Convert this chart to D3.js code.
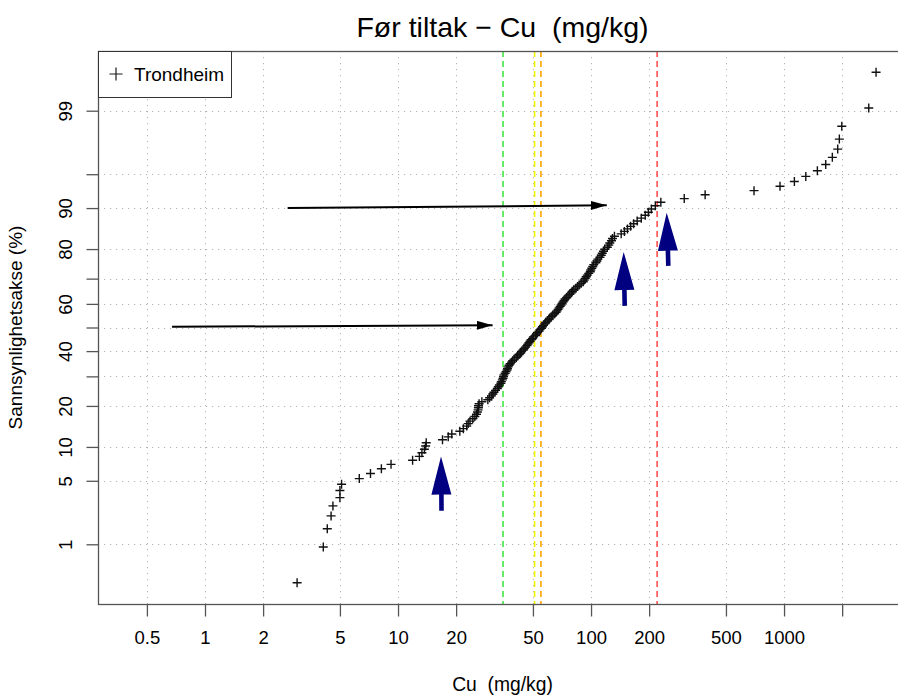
<!DOCTYPE html>
<html>
<head>
<meta charset="utf-8">
<script src="https://cdn.jsdelivr.net/npm/d3@7"></script>
<style>
  body { margin: 0; background: #fff; }
  svg { display: block; font-family: "Liberation Sans", Arial, sans-serif; }
  text { white-space: pre; }
</style>
</head>
<body>
<svg width="898" height="697"></svg>
<script>
// Cu (mg/kg), sorted - one value per sample
var cuValues = [3.0, 4.1, 4.3, 4.5, 4.6, 5.0, 5.0, 5.1, 6.3, 7.2,
    8.2, 9.2, 11.9, 12.9, 13.3, 13.7, 13.9, 14.0, 17.0, 18.2,
    19.0, 20.9, 21.8, 22.7, 23.1, 23.6, 24.4, 25.0, 25.5, 25.8,
    26.0, 26.1, 26.1, 26.3, 27.2, 29.2, 29.8, 30.5, 31.0, 31.4,
    32.0, 32.7, 33.1, 33.5, 34.1, 34.3, 34.7, 35.0, 35.2, 35.4,
    35.9, 36.3, 36.7, 36.9, 37.2, 37.6, 38.1, 38.8, 39.3, 40.0,
    41.0, 41.7, 42.4, 43.2, 43.6, 44.5, 45.0, 45.8, 46.6, 47.1,
    47.7, 48.3, 48.9, 49.7, 50.3, 51.6, 52.2, 52.8, 53.8, 54.4,
    55.4, 56.0, 56.7, 57.6, 58.3, 59.4, 60.5, 61.1, 62.2, 63.3,
    64.8, 65.9, 66.7, 67.5, 68.3, 69.2, 70.0, 70.8, 71.6, 72.5,
    73.4, 74.8, 76.1, 77.6, 79.0, 80.0, 81.5, 83.5, 85.2, 86.8,
    88.9, 91.1, 92.2, 93.3, 94.4, 95.6, 97.3, 99.1, 99.7, 100.9,
    102.1, 103.4, 105.9, 107.2, 108.5, 111.2, 113.0, 114.4, 116.0, 117.7,
    121.4, 123.6, 125.1, 127.6, 129.1, 132.2, 143.3, 148.9, 154.4, 160.3,
    166.2, 173.4, 182.1, 190.9, 198.2, 205.4, 215.3, 230, 304, 390,
    699, 953, 1131, 1296, 1488, 1644, 1779, 1897, 1934, 1991,
    2747, 2997];

var xTicks = [0.5, 1, 2, 5, 10, 20, 50, 100, 200, 500, 1000, 2000];
var xTickLabels = ["0.5", "1", "2", "5", "10", "20", "50", "100", "200", "500", "1000", ""];
var yTicks = [1, 5, 10, 20, 30, 40, 50, 60, 70, 80, 90, 95, 99];
var yTickLabels = ["1", "5", "10", "20", "", "40", "", "60", "", "80", "90", "", "99"];

// vertical reference lines (Cu value)
var refValues = [35, 51, 55, 220];
var refColors = ["#44e844", "#f2f200", "#ffa500", "#ff5050"];

// black arrows: from [Cu, %] to [Cu, %]
var blackArrows = [
    {from: [2.68, 90.0], to: [120.6, 90.5]},
    {from: [0.675, 50.3], to: [30.9, 51.0]}
];
// navy arrows pointing up
var blueArrows = [
    {from: [16.8, 2.46], to: [16.7, 8.3]},
    {from: [149.5, 59.2], to: [147.7, 79.1]},
    {from: [251.5, 74.6], to: [246.7, 89.1]}
];

function qnorm(p) {
    var a = [-3.969683028665376e+01, 2.209460984245205e+02, -2.759285104469687e+02, 1.383577518672690e+02, -3.066479806614716e+01, 2.506628277459239e+00];
    var b = [-5.447609879822406e+01, 1.615858368580409e+02, -1.556989798598866e+02, 6.680131188771972e+01, -1.328068155288572e+01];
    var c = [-7.784894002430293e-03, -3.223964580411365e-01, -2.400758277161838e+00, -2.549671010229528e+00, 4.374664141464968e+00, 2.938163982698783e+00];
    var d = [7.784695709041462e-03, 3.224671290700398e-01, 2.445134137142996e+00, 3.754408661907416e+00];
    var q, r;
    if (p < 0.02425) {
        q = Math.sqrt(-2 * Math.log(p));
        return (((((c[0]*q+c[1])*q+c[2])*q+c[3])*q+c[4])*q+c[5]) / ((((d[0]*q+d[1])*q+d[2])*q+d[3])*q+1);
    }
    if (p > 1 - 0.02425) {
        q = Math.sqrt(-2 * Math.log(1 - p));
        return -(((((c[0]*q+c[1])*q+c[2])*q+c[3])*q+c[4])*q+c[5]) / ((((d[0]*q+d[1])*q+d[2])*q+d[3])*q+1);
    }
    q = p - 0.5;
    r = q * q;
    return (((((a[0]*r+a[1])*r+a[2])*r+a[3])*r+a[4])*r+a[5])*q / (((((b[0]*r+b[1])*r+b[2])*r+b[3])*r+b[4])*r+1);
}

var svg = d3.select("svg"),
    pLeft = 98, pRight = 907, pTop = 51, pBottom = 604;

var x = d3.scaleLog().domain([0.279, 4335]).range([pLeft, pRight]);
var z = d3.scaleLinear().domain([-2.967, 2.967]).range([pBottom, pTop]);
var yPct = function(pct) { return z(qnorm(pct / 100)); };

var n = cuValues.length;
var points = cuValues.map(function(v, i) {
    return {cu: v, pct: 100 * (i + 0.5) / n};
});

// grid
var grid = svg.append("g")
    .attr("stroke", "#b4b4b4")
    .attr("stroke-dasharray", "1.2,4.8");
grid.selectAll(".gx").data(xTicks).enter().append("line")
    .attr("x1", function(d) { return Math.round(x(d)) + 0.5; })
    .attr("x2", function(d) { return Math.round(x(d)) + 0.5; })
    .attr("y1", pTop).attr("y2", pBottom);
grid.selectAll(".gy").data(yTicks).enter().append("line")
    .attr("y1", function(d) { return Math.round(yPct(d)) + 0.5; })
    .attr("y2", function(d) { return Math.round(yPct(d)) + 0.5; })
    .attr("x1", pLeft).attr("x2", pRight);

// reference lines
svg.append("g").selectAll("line").data(refValues).enter().append("line")
    .attr("x1", function(d) { return x(d); })
    .attr("x2", function(d) { return x(d); })
    .attr("y1", pTop).attr("y2", pBottom)
    .attr("stroke", function(d, i) { return refColors[i]; })
    .attr("stroke-width", 1.6)
    .attr("stroke-dasharray", "6,4");

// points
svg.append("g").selectAll("path").data(points).enter().append("path")
    .attr("transform", function(d) { return "translate(" + x(d.cu) + "," + yPct(d.pct) + ")"; })
    .attr("d", "M-4.5,0H4.5M0,-4.5V4.5")
    .attr("stroke", "#111")
    .attr("stroke-width", 1.4)
    .attr("fill", "none");

// black arrows
svg.append("defs").append("marker")
    .attr("id", "head")
    .attr("markerUnits", "userSpaceOnUse")
    .attr("markerWidth", 18).attr("markerHeight", 10)
    .attr("refX", 16).attr("refY", 4.5)
    .attr("orient", "auto")
    .append("path")
    .attr("d", "M0,0L16,4.5L0,9Z")
    .attr("fill", "#000");

svg.append("g").selectAll("line").data(blackArrows).enter().append("line")
    .attr("x1", function(d) { return x(d.from[0]); })
    .attr("y1", function(d) { return yPct(d.from[1]); })
    .attr("x2", function(d) { return x(d.to[0]); })
    .attr("y2", function(d) { return yPct(d.to[1]); })
    .attr("stroke", "#000")
    .attr("stroke-width", 2)
    .attr("marker-end", "url(#head)");

// navy arrows
function bigArrow(d) {
    var x0 = x(d.from[0]), y0 = yPct(d.from[1]), x1 = x(d.to[0]), y1 = yPct(d.to[1]);
    var len = Math.sqrt((x1 - x0) * (x1 - x0) + (y1 - y0) * (y1 - y0));
    var ux = (x1 - x0) / len, uy = (y1 - y0) / len;
    var nx = -uy, ny = ux;
    var hl = 38, hw = 10, sw = 2.3;
    var bx = x1 - ux * hl, by = y1 - uy * hl;
    var pts = [
        [x1, y1],
        [bx + nx * hw, by + ny * hw],
        [bx + nx * sw, by + ny * sw],
        [x0 + nx * sw, y0 + ny * sw],
        [x0 - nx * sw, y0 - ny * sw],
        [bx - nx * sw, by - ny * sw],
        [bx - nx * hw, by - ny * hw]
    ];
    return "M" + pts.map(function(p) { return p[0].toFixed(1) + "," + p[1].toFixed(1); }).join("L") + "Z";
}
svg.append("g").selectAll("path").data(blueArrows).enter().append("path")
    .attr("d", bigArrow)
    .attr("fill", "#000080");

// frame
svg.append("rect")
    .attr("x", pLeft + 0.5).attr("y", pTop + 0.5)
    .attr("width", pRight - pLeft).attr("height", pBottom - pTop)
    .attr("fill", "none")
    .attr("stroke", "#555")
    .attr("stroke-width", 1.3);

// axes
var xAxis = svg.append("g")
    .attr("transform", "translate(0," + (pBottom + 0.5) + ")")
    .call(d3.axisBottom(x).tickValues(xTicks)
        .tickFormat(function(d, i) { return xTickLabels[i]; })
        .tickSize(12).tickPadding(14));
xAxis.select(".domain").remove();
xAxis.selectAll("line").attr("stroke", "#555").attr("stroke-width", 1.3);
xAxis.selectAll("text").attr("font-size", 18.5).attr("fill", "#000")
    .attr("font-family", "Liberation Sans, Arial, sans-serif");

var yAxis = svg.append("g")
    .attr("transform", "translate(" + (pLeft + 0.5) + ",0)")
    .call(d3.axisLeft(z).tickValues(yTicks.map(function(d) { return qnorm(d / 100); }))
        .tickFormat(function(d, i) { return yTickLabels[i]; })
        .tickSize(12).tickPadding(0));
yAxis.select(".domain").remove();
yAxis.selectAll("line").attr("stroke", "#555").attr("stroke-width", 1.3);
yAxis.selectAll("text")
    .attr("font-size", 18.5).attr("fill", "#000")
    .attr("font-family", "Liberation Sans, Arial, sans-serif")
    .attr("x", null).attr("dy", null)
    .attr("text-anchor", "middle")
    .attr("transform", "translate(-27,0) rotate(-90)");

// titles
svg.append("text")
    .attr("x", (pLeft + pRight) / 2).attr("y", 37)
    .attr("text-anchor", "middle")
    .attr("font-size", 28.5)
    .text("Før tiltak \u2212 Cu  (mg/kg)");

svg.append("text")
    .attr("x", (pLeft + pRight) / 2).attr("y", 691)
    .attr("text-anchor", "middle")
    .attr("font-size", 19.3)
    .text("Cu  (mg/kg)");

svg.append("text")
    .attr("transform", "translate(22," + (pTop + pBottom) / 2 + ") rotate(-90)")
    .attr("text-anchor", "middle")
    .attr("font-size", 19)
    .text("Sannsynlighetsakse (%)");

// legend
var legend = svg.append("g");
legend.append("rect")
    .attr("x", pLeft + 0.5).attr("y", pTop + 0.5)
    .attr("width", 133).attr("height", 46)
    .attr("fill", "#fff")
    .attr("stroke", "#333");
legend.append("path")
    .attr("transform", "translate(116,74)")
    .attr("d", "M-6.5,0H6.5M0,-6.5V6.5")
    .attr("stroke", "#1a1a1a")
    .attr("stroke-width", 1.2);
legend.append("text")
    .attr("x", 134).attr("y", 80.5)
    .attr("font-size", 19)
    .text("Trondheim");
</script>
</body>
</html>
